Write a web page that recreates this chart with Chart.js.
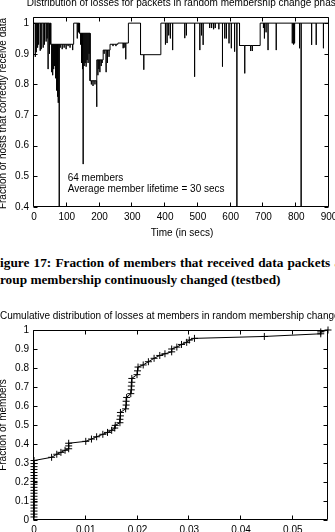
<!DOCTYPE html>
<html>
<head>
<meta charset="utf-8">
<script src="https://cdn.jsdelivr.net/npm/chart.js@4.4.0/dist/chart.umd.min.js"></script>
<style>
html, body { margin: 0; padding: 0; background: #fff; width: 335px; height: 532px; overflow: hidden; }
canvas { position: absolute; left: 0; }
#lossTrace { top: 0; }
#lossCdf { top: 300px; }
.caption { position: absolute; white-space: nowrap; color: #000; font: bold 13.3px "Liberation Serif", "Times New Roman", serif; line-height: 13.3px; }
</style>
</head>
<body>
<canvas id="lossTrace" width="335" height="240"></canvas>
<div class="caption" style="left:-8px; top:256px; word-spacing:0.8px">Figure 17: Fraction of members that received data packets as</div>
<div class="caption" style="left:-6.7px; top:273px">group membership continuously changed (testbed)</div>
<canvas id="lossCdf" width="335" height="232"></canvas>
<script>
// chart 1: fraction of hosts that got each packet, stepwise with drop spikes
var timeMax = 900;
var timeTicks = [0, 100, 200, 300, 400, 500, 600, 700, 800, 900];
var timeTickLabels = ['0', '100', '200', '300', '400', '500', '600', '700', '800', '900'];
var hostTicks = [0.4, 0.5, 0.6, 0.7, 0.8, 0.9, 1];
var hostTickLabels = ['0.4', '0.5', '0.6', '0.7', '0.8', '0.9', '1'];

// plateau levels (start time, value)
var levelStart = [0, 51, 121, 139, 171, 192, 211, 232, 256, 288, 325, 387, 627, 690];
var levelValue = [1.0, 0.931, 1.0, 0.967, 0.812, 0.88, 0.912, 0.931, 0.935, 1.0, 0.897, 1.0, 0.927, 1.0];

// short drops below the current level (time, lowest value)
var spikeTime = [4, 7, 11, 14, 19, 22, 28, 32, 37, 40, 43, 46, 48,
	54, 57, 60, 63, 66, 69, 72, 74, 77, 80, 86, 92, 98, 104, 110, 118,
	132, 136,
	142, 145, 148, 150, 153, 156, 159, 162, 165, 168,
	175, 180, 186, 191,
	195, 198, 201, 205, 208,
	214, 220, 224, 229,
	241, 250, 272, 275, 280,
	335,
	401, 406, 411, 416, 423, 460, 465, 490, 506, 511, 516, 536, 542, 548, 553, 564, 575, 582, 587, 595, 602, 612, 619,
	643, 661, 666,
	700, 703, 708, 714, 739, 788, 792, 795, 810, 815, 847, 861, 883];
var spikeValue = [0.89, 0.905, 0.92, 0.93, 0.91, 0.915, 0.92, 0.93, 0.94, 0.95, 0.85, 0.9, 0.91,
	0.84, 0.83, 0.85, 0.86, 0.82, 0.78, 0.76, 0.74, 0.4, 0.92, 0.915, 0.92, 0.915, 0.925, 0.92, 0.912,
	0.95, 0.97,
	0.93, 0.87, 0.85, 0.54, 0.86, 0.87, 0.858, 0.88, 0.87, 0.9,
	0.8, 0.795, 0.8, 0.727,
	0.83, 0.85, 0.84, 0.86, 0.87,
	0.9, 0.84, 0.87, 0.89,
	0.925, 0.925, 0.918, 0.92, 0.882,
	0.848,
	0.93, 0.935, 0.96, 0.95, 0.912, 0.951, 0.96, 0.825, 0.912, 0.96, 0.929, 0.984, 0.984, 0.98, 0.984, 0.98, 0.858, 0.95, 0.95, 0.934, 0.918, 0.907, 0.4,
	0.836, 0.909, 0.909,
	0.984, 0.95, 0.97, 0.912, 0.912, 0.934, 0.93, 0.934, 0.918, 0.4, 0.929, 0.929, 0.918];

// chart 2: cumulative distribution of losses at members
var lossTicks = [0, 0.01, 0.02, 0.03, 0.04, 0.05];
var lossTickLabels = ['0', '0.01', '0.02', '0.03', '0.04', '0.05'];
var memberTicks = [0, 0.1, 0.2, 0.3, 0.4, 0.5, 0.6, 0.7, 0.8, 0.9, 1];
var memberTickLabels = ['0', '0.1', '0.2', '0.3', '0.4', '0.5', '0.6', '0.7', '0.8', '0.9', '1'];
var lossFraction = [0, 0, 0, 0, 0, 0, 0, 0, 0, 0, 0, 0, 0, 0, 0, 0, 0, 0, 0, 0,
	0.0034, 0.0044, 0.0052, 0.0060, 0.0067, 0.0067, 0.0067,
	0.0100, 0.0111, 0.0121, 0.0133, 0.0142, 0.0150, 0.0156, 0.0157,
	0.0166, 0.0166, 0.0167, 0.0167,
	0.0177, 0.0178, 0.0178, 0.0179,
	0.0187, 0.0188, 0.0188, 0.0189, 0.0189,
	0.0199, 0.0200, 0.0201,
	0.0211, 0.0221, 0.0232, 0.0243, 0.0253,
	0.0266, 0.0266, 0.0276, 0.0285, 0.0295, 0.0300, 0.0310,
	0.0445, 0.0554, 0.0554, 0.0568];
var memberFraction = [0.016, 0.031, 0.047, 0.063, 0.078, 0.094, 0.109, 0.125, 0.141, 0.156, 0.172, 0.188, 0.203, 0.219, 0.234, 0.25, 0.266, 0.281, 0.297, 0.313,
	0.330, 0.346, 0.356, 0.367, 0.375, 0.390, 0.404,
	0.414, 0.426, 0.438, 0.451, 0.461, 0.472, 0.484, 0.498,
	0.512, 0.530, 0.548, 0.566,
	0.585, 0.605, 0.625, 0.645,
	0.665, 0.685, 0.705, 0.725, 0.745,
	0.765, 0.785, 0.805,
	0.816, 0.833, 0.851, 0.866, 0.875,
	0.885, 0.900, 0.910, 0.924, 0.935, 0.947, 0.956,
	0.966, 0.980, 0.990, 1.0];

function buildTrace() {
	var events = [];
	levelStart.forEach(function(t, i) { events.push({t: t, level: true, v: levelValue[i]}); });
	spikeTime.forEach(function(t, i) { events.push({t: t, level: false, v: spikeValue[i]}); });
	events.sort(function(a, b) { return a.t - b.t; });
	var pts = [];
	var cur = null;
	events.forEach(function(e) {
		if (e.level) {
			if (cur !== null) pts.push({x: e.t, y: cur});
			pts.push({x: e.t, y: e.v});
			cur = e.v;
		} else {
			pts.push({x: e.t, y: cur}, {x: e.t, y: e.v}, {x: e.t, y: cur});
		}
	});
	pts.push({x: timeMax, y: cur});
	return pts;
}

function scaleOpts(axis, min, max, ticks, labels, size, pad) {
	return {
		type: 'linear',
		min: min,
		max: max,
		grid: {display: false, drawTicks: false},
		border: {display: false},
		afterBuildTicks: function(s) { s.ticks = ticks.map(function(v) { return {value: v}; }); },
		afterFit: function(s) {
			if (axis === 'x') s.height = size; else s.width = size;
			s.paddingLeft = 0; s.paddingRight = 0; s.paddingTop = 0; s.paddingBottom = 0;
		},
		ticks: {
			padding: pad,
			color: '#000',
			font: {family: 'Liberation Sans', size: 10},
			autoSkip: false,
			maxRotation: 0,
			callback: function(v, i) { return labels[i]; }
		}
	};
}

// gnuplot style frame, inward ticks on all sides, and free text
var gnuplotFrame = {
	id: 'gnuplotFrame',
	afterDraw: function(chart, args, opts) {
		var ctx = chart.ctx, a = chart.chartArea, sx = chart.scales.x, sy = chart.scales.y;
		var l = Math.round(a.left) - 0.5, r = Math.round(a.right) - 0.5;
		var t = Math.round(a.top) + 0.5, b = Math.round(a.bottom) - 0.5;
		ctx.save();
		ctx.strokeStyle = '#000';
		ctx.lineWidth = 1;
		ctx.beginPath();
		ctx.rect(l, t, r - l, b - t);
		sx.ticks.forEach(function(tk) {
			var x = Math.round(sx.getPixelForValue(tk.value)) - 0.5;
			ctx.moveTo(x, b); ctx.lineTo(x, b - 4);
			ctx.moveTo(x, t); ctx.lineTo(x, t + 4);
		});
		sy.ticks.forEach(function(tk) {
			var y = Math.round(sy.getPixelForValue(tk.value)) + 0.5;
			ctx.moveTo(l, y); ctx.lineTo(l + 4, y);
			ctx.moveTo(r, y); ctx.lineTo(r - 4, y);
		});
		ctx.stroke();
		ctx.fillStyle = '#000';
		ctx.font = '10px "Liberation Sans"';
		ctx.textBaseline = 'alphabetic';
		(opts.texts || []).forEach(function(tx) {
			ctx.save();
			ctx.translate(tx.x, tx.y);
			if (tx.rot) ctx.rotate(tx.rot);
			ctx.textAlign = tx.align || 'left';
			ctx.fillText(tx.text, 0, 0);
			ctx.restore();
		});
		ctx.restore();
	}
};

new Chart(document.getElementById('lossTrace'), {
	type: 'line',
	data: {
		datasets: [{
			data: buildTrace(),
			borderColor: '#000',
			borderWidth: 1,
			pointRadius: 0,
			fill: false,
			tension: 0
		}]
	},
	options: {
		responsive: false,
		animation: false,
		events: [],
		layout: {autoPadding: false, padding: {left: 0, right: 6, top: 17, bottom: 13}},
		plugins: {
			legend: {display: false},
			tooltip: {enabled: false},
			gnuplotFrame: {
				texts: [
					{text: 'Distribution of losses for packets in random membership change phase', x: 184, y: 6, align: 'center'},
					{text: 'Time (in secs)', x: 182, y: 235.5, align: 'center'},
					{text: 'Fraction of hosts that correctly receive data', x: 5.5, y: 113.5, align: 'center', rot: -Math.PI / 2},
					{text: '64 members', x: 67.7, y: 180.5},
					{text: 'Average member lifetime = 30 secs', x: 67.7, y: 192}
				]
			}
		},
		scales: {
			x: scaleOpts('x', 0, timeMax, timeTicks, timeTickLabels, 20, 4.5),
			y: scaleOpts('y', 0.4, 1.02, hostTicks, hostTickLabels, 34, 5)
		}
	},
	plugins: [gnuplotFrame]
});

new Chart(document.getElementById('lossCdf'), {
	type: 'line',
	data: {
		datasets: [{
			data: lossFraction.map(function(x, i) { return {x: x, y: memberFraction[i]}; }),
			borderColor: '#000',
			borderWidth: 1,
			pointStyle: 'cross',
			pointRadius: 3.5,
			pointBorderColor: '#000',
			pointBorderWidth: 1,
			fill: false,
			tension: 0,
			clip: 8
		}]
	},
	options: {
		responsive: false,
		animation: false,
		events: [],
		layout: {autoPadding: false, padding: {left: 0, right: 7, top: 30, bottom: 0}},
		plugins: {
			legend: {display: false},
			tooltip: {enabled: false},
			gnuplotFrame: {
				texts: [
					{text: 'Cumulative distribution of losses at members in random membership change phase', x: 0, y: 19},
					{text: 'Fraction of members', x: 5.5, y: 125, align: 'center', rot: -Math.PI / 2}
				]
			}
		},
		scales: {
			x: scaleOpts('x', 0, 0.0568, lossTicks, lossTickLabels, 12, 4),
			y: scaleOpts('y', 0, 1, memberTicks, memberTickLabels, 34, 5)
		}
	},
	plugins: [gnuplotFrame]
});
</script>
</body>
</html>
